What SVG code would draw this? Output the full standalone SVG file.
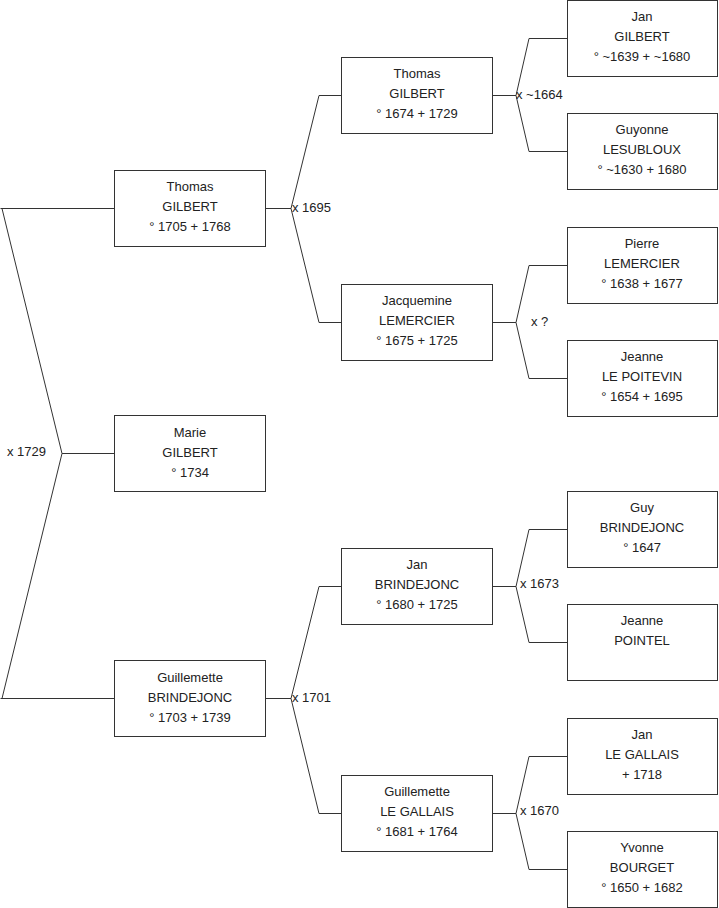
<svg xmlns="http://www.w3.org/2000/svg" width="719" height="908" viewBox="0 0 719 908">
<style>
.box{fill:#fff;stroke:#333;stroke-width:1}
.ln{fill:none;stroke:#333;stroke-width:1}
text{font-family:"Liberation Sans",Arial,sans-serif;font-size:13px;fill:#222}
.c{text-anchor:middle}
</style>
<rect width="719" height="908" fill="#fff"/>
<g id="connectors">
<path class="ln" d="M0.5,208.5H114.5 M2,208.5L62,453.5L2,698.5 M62,453.5H114.5 M0.5,698.5H114.5"/>
<path class="ln" d="M265.5,208.5H291 L319,95.5H341.5 M291,208.5L319,322.5H341.5"/>
<path class="ln" d="M265.5,698.5H291 L319,586.5H341.5 M291,698.5L319,813.5H341.5"/>
<path class="ln" d="M492.5,95.5H516 L529,38.5H567.5 M516,95.5L529,151.5H567.5"/>
<path class="ln" d="M492.5,322.5H516 L529,265.5H567.5 M516,322.5L529,378.5H567.5"/>
<path class="ln" d="M492.5,586.5H516 L529,529.5H567.5 M516,586.5L529,642.5H567.5"/>
<path class="ln" d="M492.5,813.5H516 L529,756.5H567.5 M516,813.5L529,869.5H567.5"/>
<text x="7" y="456">x 1729</text>
<text x="292" y="212">x 1695</text>
<text x="292" y="702">x 1701</text>
<text x="516" y="99">x ~1664</text>
<text x="531" y="326">x ?</text>
<text x="520" y="588">x 1673</text>
<text x="520" y="815">x 1670</text>
</g>
<g id="n-thomas-1705"><rect class="box" x="114.5" y="170.5" width="151" height="76"/><text class="c" x="190" y="191">Thomas</text><text class="c" x="190" y="211">GILBERT</text><text class="c" x="190" y="231">° 1705 + 1768</text></g>
<g id="n-marie"><rect class="box" x="114.5" y="415.5" width="151" height="76"/><text class="c" x="190" y="437">Marie</text><text class="c" x="190" y="457">GILBERT</text><text class="c" x="190" y="477">° 1734</text></g>
<g id="n-guillemette-1703"><rect class="box" x="114.5" y="660.5" width="151" height="76"/><text class="c" x="190" y="682">Guillemette</text><text class="c" x="190" y="702">BRINDEJONC</text><text class="c" x="190" y="722">° 1703 + 1739</text></g>
<g id="n-thomas-1674"><rect class="box" x="341.5" y="57.5" width="151" height="76"/><text class="c" x="417" y="78">Thomas</text><text class="c" x="417" y="98">GILBERT</text><text class="c" x="417" y="118">° 1674 + 1729</text></g>
<g id="n-jacquemine"><rect class="box" x="341.5" y="284.5" width="151" height="76"/><text class="c" x="417" y="305">Jacquemine</text><text class="c" x="417" y="325">LEMERCIER</text><text class="c" x="417" y="345">° 1675 + 1725</text></g>
<g id="n-jan-1680"><rect class="box" x="341.5" y="548.5" width="151" height="76"/><text class="c" x="417" y="569">Jan</text><text class="c" x="417" y="589">BRINDEJONC</text><text class="c" x="417" y="609">° 1680 + 1725</text></g>
<g id="n-guillemette-1681"><rect class="box" x="341.5" y="775.5" width="151" height="76"/><text class="c" x="417" y="796">Guillemette</text><text class="c" x="417" y="816">LE GALLAIS</text><text class="c" x="417" y="836">° 1681 + 1764</text></g>
<g id="n-jan-gilbert"><rect class="box" x="567.5" y="0.5" width="150" height="76"/><text class="c" x="642" y="21">Jan</text><text class="c" x="642" y="41">GILBERT</text><text class="c" x="642" y="61">° ~1639 + ~1680</text></g>
<g id="n-guyonne"><rect class="box" x="567.5" y="113.5" width="150" height="76"/><text class="c" x="642" y="134">Guyonne</text><text class="c" x="642" y="154">LESUBLOUX</text><text class="c" x="642" y="174">° ~1630 + 1680</text></g>
<g id="n-pierre"><rect class="box" x="567.5" y="227.5" width="150" height="76"/><text class="c" x="642" y="248">Pierre</text><text class="c" x="642" y="268">LEMERCIER</text><text class="c" x="642" y="288">° 1638 + 1677</text></g>
<g id="n-jeanne-lp"><rect class="box" x="567.5" y="340.5" width="150" height="76"/><text class="c" x="642" y="361">Jeanne</text><text class="c" x="642" y="381">LE POITEVIN</text><text class="c" x="642" y="401">° 1654 + 1695</text></g>
<g id="n-guy"><rect class="box" x="567.5" y="491.5" width="150" height="76"/><text class="c" x="642" y="512">Guy</text><text class="c" x="642" y="532">BRINDEJONC</text><text class="c" x="642" y="552">° 1647</text></g>
<g id="n-jeanne-p"><rect class="box" x="567.5" y="604.5" width="150" height="76"/><text class="c" x="642" y="625">Jeanne</text><text class="c" x="642" y="645">POINTEL</text></g>
<g id="n-jan-lg"><rect class="box" x="567.5" y="718.5" width="150" height="76"/><text class="c" x="642" y="739">Jan</text><text class="c" x="642" y="759">LE GALLAIS</text><text class="c" x="642" y="779">+ 1718</text></g>
<g id="n-yvonne"><rect class="box" x="567.5" y="831.5" width="150" height="76"/><text class="c" x="642" y="852">Yvonne</text><text class="c" x="642" y="872">BOURGET</text><text class="c" x="642" y="892">° 1650 + 1682</text></g>
</svg>
